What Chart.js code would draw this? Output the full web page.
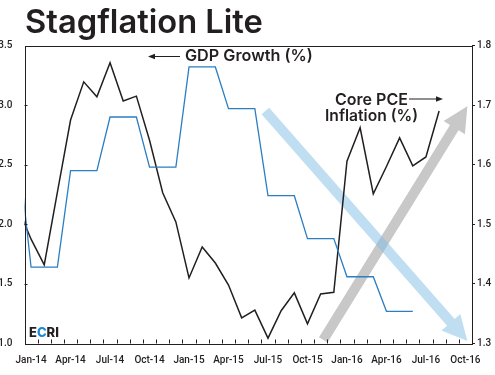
<!DOCTYPE html>
<html><head><meta charset="utf-8">
<script src="https://cdn.jsdelivr.net/npm/chart.js@4"></script>
<style>html,body{margin:0;padding:0;background:#fff}#wrap{width:495px;height:375px;position:relative}</style>
</head><body><div id="wrap"><canvas id="c" width="495" height="375"></canvas></div>
<script>
// ---- data (month index: 0 = Jan-14) ----
const tickIndex  = [0, 3, 6, 9, 12, 15, 18, 21, 24, 27, 30, 33];
const tickLabels = ['Jan-14','Apr-14','Jul-14','Oct-14','Jan-15','Apr-15','Jul-15','Oct-15','Jan-16','Apr-16','Jul-16','Oct-16'];
const gdpStart = -1;   // Dec-13
const gdpValues = [2.64,
  1.64,1.64,1.64, 2.45,2.45,2.45, 2.90,2.90,2.90, 2.48,2.48,2.48,
  3.32,3.32,3.32, 2.97,2.97,2.97, 2.24,2.24,2.24, 1.88,1.88,1.88,
  1.56,1.56,1.56, 1.27,1.27,1.27];
const pceStart = -1;   // Dec-13
const pceValues = [1.528,
  1.475,1.432,1.554,1.675,1.739,1.714,1.771,1.707,1.715,1.641,1.553,1.504,
  1.410,1.462,1.435,1.398,1.343,1.356,1.309,1.355,1.385,1.333,1.383,1.386,
  1.606,1.662,1.551,1.597,1.645,1.598,1.613,1.690];
// decorative trend arrows (data coordinates)
const blueArrow = {axis:'y',  from:{x:17.8, y:2.95},  to:{x:33.15, y:1.02}};
const grayArrow = {axis:'y1', from:{x:22.2, y:1.306}, to:{x:33.15, y:1.698}};

const INK = '#231f20';
const FAM = 'Inter, "Open Sans", sans-serif';

function toPts(start, vals){ return vals.map((v,i)=>({x:start+i, y:v})); }

function fitSize(ctx, text, weight, family, targetW, base){
  ctx.font = weight+' '+base+'px '+family;
  const w = ctx.measureText(text).width;
  return base*targetW/w;
}
function drawFitted(ctx, text, weight, family, left, cy, targetW, base, color){
  const s = fitSize(ctx, text, weight, family, targetW, base);
  ctx.font = weight+' '+s.toFixed(2)+'px '+family;
  ctx.fillStyle = color; ctx.textAlign='left'; ctx.textBaseline='middle';
  ctx.fillText(text, left, cy);
}
function arrowPath(ctx, x0,y0,x1,y1, shaftW, headL, headW){
  const dx=x1-x0, dy=y1-y0, L=Math.hypot(dx,dy), ux=dx/L, uy=dy/L, nx=-uy, ny=ux;
  const bx=x1-ux*headL, by=y1-uy*headL;
  ctx.beginPath();
  ctx.moveTo(x0+nx*shaftW/2, y0+ny*shaftW/2);
  ctx.lineTo(bx+nx*shaftW/2, by+ny*shaftW/2);
  ctx.lineTo(bx+nx*headW/2, by+ny*headW/2);
  ctx.lineTo(x1, y1);
  ctx.lineTo(bx-nx*headW/2, by-ny*headW/2);
  ctx.lineTo(bx-nx*shaftW/2, by-ny*shaftW/2);
  ctx.lineTo(x0-nx*shaftW/2, y0-ny*shaftW/2);
  ctx.closePath();
}
function smallArrow(ctx, x0, y, x1){
  const dir = Math.sign(x1-x0);
  ctx.strokeStyle=INK; ctx.lineWidth=1;
  ctx.beginPath(); ctx.moveTo(x0,y); ctx.lineTo(x1-dir*5,y); ctx.stroke();
  ctx.fillStyle=INK; ctx.beginPath();
  ctx.moveTo(x1,y); ctx.lineTo(x1-dir*7,y-2.8); ctx.lineTo(x1-dir*7,y+2.8); ctx.closePath(); ctx.fill();
}

const decor = {
  id:'decor',
  beforeDatasetsDraw(chart){
    const ctx=chart.ctx, xs=chart.scales.x;
    ctx.save();
    const g=chart.scales[grayArrow.axis];
    ctx.fillStyle='#c8c8c8';
    arrowPath(ctx, xs.getPixelForValue(grayArrow.from.x), g.getPixelForValue(grayArrow.from.y),
                   xs.getPixelForValue(grayArrow.to.x), g.getPixelForValue(grayArrow.to.y), 10, 25, 25);
    ctx.fill();
    const b=chart.scales[blueArrow.axis];
    ctx.fillStyle='rgba(127,189,230,0.5)';
    arrowPath(ctx, xs.getPixelForValue(blueArrow.from.x), b.getPixelForValue(blueArrow.from.y),
                   xs.getPixelForValue(blueArrow.to.x), b.getPixelForValue(blueArrow.to.y), 10, 25, 25);
    ctx.fill();
    ctx.restore();
  },
  afterDraw(chart){
    const ctx=chart.ctx, a=chart.chartArea, xs=chart.scales.x, ys=chart.scales.y;
    ctx.save();
    // frame
    ctx.strokeStyle=INK; ctx.lineWidth=1;
    ctx.strokeRect(Math.round(a.left)+0.5, Math.round(a.top)+0.5, Math.round(a.right-a.left)-1, Math.round(a.bottom-a.top));
    // x inward ticks at month boundaries
    ctx.beginPath();
    for(let k=0;k<=33;k++){
      const px=Math.round(xs.getPixelForValue(k-0.5))+0.5;
      ctx.moveTo(px, a.bottom); ctx.lineTo(px, a.bottom-4);
    }
    // left inward ticks
    for(let v=1.5; v<3.4; v+=0.5){
      const py=Math.round(ys.getPixelForValue(v))+0.5;
      ctx.moveTo(a.left, py); ctx.lineTo(a.left+3, py);
    }
    ctx.stroke();
    // title
    drawFitted(ctx, 'Stagflation Lite', '600', FAM, 25, 23, 238, 28, INK);
    // series labels
    drawFitted(ctx, 'GDP Growth (%)', '600', FAM, 185, 56.5, 128, 15, INK);
    smallArrow(ctx, 180, 56.5, 148);
    drawFitted(ctx, 'Core PCE', '600', FAM, 335, 100, 73, 15, INK);
    drawFitted(ctx, 'Inflation (%)', '600', FAM, 325, 116.5, 93, 15, INK);
    smallArrow(ctx, 409, 99, 443);
    // logo
    ctx.font='800 13px '+FAM; ctx.textBaseline='middle'; ctx.textAlign='left';
    let x=29; const y=333;
    [['E',INK],['C','#1a8ad4'],['RI',INK]].forEach(([t,c])=>{ctx.fillStyle=c; ctx.fillText(t,x,y); x+=ctx.measureText(t).width;});
    ctx.restore();
  }
};

const tickFont = {family:'Roboto, "Liberation Sans", sans-serif', size:10, weight:'500'};
new Chart(document.getElementById('c'), {
  type:'line',
  data:{datasets:[
    {label:'GDP Growth (%)', data:toPts(gdpStart,gdpValues), yAxisID:'y',
     borderColor:'#2b7ec2', borderWidth:1.3, pointRadius:0, tension:0},
    {label:'Core PCE Inflation (%)', data:toPts(pceStart,pceValues), yAxisID:'y1',
     borderColor:INK, borderWidth:1.5, pointRadius:0, tension:0}
  ]},
  options:{
    responsive:false, animation:false, devicePixelRatio:1,
    layout:{padding:{top:45.5,left:0,right:0,bottom:0}},
    plugins:{legend:{display:false}, tooltip:{enabled:false}, title:{display:false}},
    scales:{
      x:{type:'linear', min:-0.5, max:33.5,
         afterBuildTicks:s=>{ s.ticks = tickIndex.map(v=>({value:v})); },
         afterFit:s=>{ s.height=31.5; },
         ticks:{autoSkip:false, maxRotation:0, padding:3, color:INK, font:tickFont,
                callback:v=>tickLabels[tickIndex.indexOf(v)]},
         grid:{display:false}, border:{display:false}},
      y:{position:'left', min:1, max:3.5,
         afterFit:s=>{ s.width=24.5; },
         ticks:{stepSize:0.5, padding:4, color:INK, font:tickFont, callback:v=>Number(v).toFixed(1)},
         grid:{display:false}, border:{display:false}},
      y1:{position:'right', min:1.3, max:1.8,
         afterFit:s=>{ s.width=23; },
         ticks:{stepSize:0.1, padding:2, color:INK, font:tickFont, callback:v=>Number(v).toFixed(1)},
         grid:{display:true, drawOnChartArea:false, drawTicks:true, tickLength:3, color:INK},
         border:{display:false}}
    }
  },
  plugins:[decor]
});
</script></body></html>
